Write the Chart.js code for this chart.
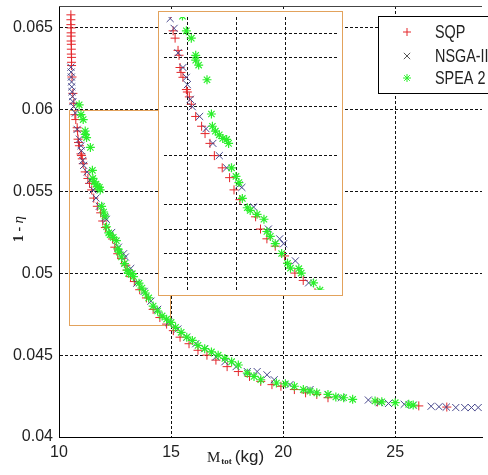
<!DOCTYPE html>
<html>
<head>
<meta charset="utf-8">
<script src="https://cdn.jsdelivr.net/npm/chart.js@4/dist/chart.umd.min.js"></script>
<style>
  html, body { margin: 0; padding: 0; background: #fff; }
  #wrap { position: relative; width: 488px; height: 475px; overflow: hidden; }
  #main { position: absolute; left: 0; top: 0; }
  #inset { position: absolute; left: 158px; top: 11px; background: #fff; }
</style>
</head>
<body>
<div id="wrap">
  <canvas id="main" width="488" height="475"></canvas>
  <canvas id="inset" width="185" height="285"></canvas>
</div>
<script>
"use strict";

// Pareto fronts, [M_tot (kg), 1 - eta]
var sqpPoints = [
  [10.53,0.0658],[10.53,0.0655],[10.53,0.0652],[10.54,0.0650],[10.54,0.0647],[10.54,0.0645],
  [10.54,0.0642],[10.55,0.0640],[10.55,0.0637],[10.55,0.0634],[10.56,0.0632],[10.56,0.0629],
  [10.56,0.0627],[10.58,0.0620],[10.62,0.0610],[10.66,0.0604],
  [10.71,0.0597],[10.75,0.0594],[10.81,0.0589],[10.83,0.0587],[10.85,0.0582],[10.87,0.0580],
  [10.91,0.0578],[10.98,0.0573],[11.00,0.0572],[11.04,0.0570],[11.08,0.0567],[11.17,0.0562],
  [11.29,0.0558],[11.36,0.0555],[11.46,0.0551],[11.55,0.0546],[11.71,0.0541],[11.86,0.0537],
  [11.95,0.0532],[12.07,0.0528],[12.39,0.0521],[12.49,0.0516],[12.62,0.0512],[12.79,0.0509],
  [12.98,0.0505],[13.04,0.0502],[13.19,0.0498],[13.36,0.0495],
  [13.60,0.0490],[13.90,0.0485],[14.20,0.0478],[14.50,0.0473],[14.80,0.0469],[15.10,0.0465],
  [15.40,0.0461],[15.80,0.0457],[16.20,0.0453],[16.60,0.0450],[17.00,0.0447],[17.50,0.0443],
  [18.00,0.0440],[18.50,0.0437],[19.00,0.0434],[19.50,0.0432],[19.90,0.0431],[20.50,0.0429],
  [21.00,0.0427],[21.50,0.0426],[22.00,0.0424],[24.20,0.04214],[26.05,0.0419],[27.30,0.04183]
];

var nsgaPoints = [
  [10.53,0.0626],[10.54,0.0623],[10.55,0.0620],[10.56,0.0617],[10.57,0.0614],[10.58,0.0611],
  [10.60,0.0608],[10.62,0.0605],[10.65,0.0602],[10.73,0.0598],[10.81,0.0588],[10.91,0.0582],
  [10.98,0.0578],[11.00,0.0575],[11.06,0.0569],[11.10,0.0566],[11.25,0.0562],[11.38,0.0557],
  [11.52,0.0551],[11.65,0.0546],[11.80,0.0541],[12.05,0.0534],[12.11,0.0533],[12.35,0.0525],
  [12.65,0.0516],[12.88,0.0512],[12.96,0.0510],[13.20,0.0503],[13.47,0.0494],
  [13.80,0.0489],[14.10,0.0483],[14.40,0.0478],[14.90,0.0470],[15.30,0.0466],[15.70,0.0461],
  [16.10,0.0457],[16.50,0.0454],[17.00,0.0449],[17.40,0.0446],[17.90,0.0443],[18.40,0.0440],
  [18.84,0.0440],[19.28,0.0438],[19.60,0.0435],[20.30,0.0432],[21.20,0.0429],[22.00,0.0426],
  [22.60,0.0424],[23.80,0.04226],[24.30,0.0421],[24.70,0.04205],[25.40,0.0420],[25.80,0.04195],
  [26.60,0.04188],[26.95,0.04185],[27.28,0.04183],[27.70,0.0418],[28.10,0.0418],[28.40,0.0418],
  [28.70,0.0418]
];

var speaPoints = [
  [10.90,0.0603],[10.98,0.0597],[11.08,0.0594],[11.17,0.0587],[11.17,0.0585],[11.23,0.0583],
  [11.40,0.0577],[11.49,0.0563],[11.51,0.0558],[11.57,0.0556],[11.65,0.05545],[11.72,0.0553],
  [11.80,0.05526],[11.84,0.0551],[11.90,0.0541],[11.99,0.05375],[12.05,0.0535],[12.12,0.05285],
  [12.22,0.05247],[12.28,0.05236],[12.42,0.0522],[12.56,0.0520],[12.62,0.0515],[12.69,0.0513],
  [12.79,0.0510],[12.92,0.0506],[13.04,0.0502],[13.10,0.0500],[13.27,0.04998],[13.32,0.0498],
  [13.57,0.0494],
  [13.70,0.0491],[13.85,0.0488],[14.00,0.0485],[14.20,0.0480],[14.40,0.0477],[14.60,0.0474],
  [14.80,0.0472],[15.00,0.0470],[15.20,0.0467],[15.45,0.0464],[15.70,0.0461],[15.95,0.0459],
  [16.20,0.0456],[16.50,0.0454],[16.80,0.0452],[17.10,0.0450],[17.40,0.0448],[17.70,0.0446],
  [18.00,0.0444],[18.40,0.0439],[18.70,0.0437],[19.00,0.0435],[19.70,0.0433],[20.10,0.04325],
  [20.50,0.0431],[20.90,0.0429],[21.20,0.0428],[21.50,0.0427],[22.00,0.0426],[22.35,0.04245],
  [22.70,0.0424],[23.10,0.0423],[24.10,0.0422],[24.40,0.04215],[25.00,0.0421],[25.60,0.0420],
  [25.80,0.04195]
];

var seriesNames = ["SQP", "NSGA-II", "SPEA 2"];
var xTicks = [10, 15, 20, 25];
var yTicks = [0.04, 0.045, 0.05, 0.055, 0.06, 0.065];
var insetXTicks = [11, 12, 13];
var insetYTicks = [0.0496, 0.0506, 0.0516, 0.0526, 0.0546, 0.0566, 0.0586, 0.0596];
var zoomBox = [10.44, 14.93, 0.04685, 0.0600];

var RED = "#e4262a", BLUE = "#47478c", GREEN = "#2bef2b", ORANGE = "#e2a25c";
var SANS = "'Liberation Sans', Arial, sans-serif";

function toXY(arr) { return arr.map(function (p) { return {x: p[0], y: p[1]}; }); }

function makeDatasets() {
  return [
    {label: seriesNames[0], data: toXY(sqpPoints), pointStyle: "cross", pointRadius: 4.5,
     pointBorderColor: RED, pointBackgroundColor: RED, pointBorderWidth: 1, order: 3},
    {label: seriesNames[1], data: toXY(nsgaPoints), pointStyle: "crossRot", pointRadius: 5,
     pointBorderColor: BLUE, pointBackgroundColor: BLUE, pointBorderWidth: 1, order: 2},
    {label: seriesNames[2], data: toXY(speaPoints), pointStyle: "star", pointRadius: 4.5,
     pointBorderColor: GREEN, pointBackgroundColor: GREEN, pointBorderWidth: 1.2, order: 1}
  ];
}

function marker(ctx, style, x, y, r, color) {
  ctx.save();
  ctx.strokeStyle = color; ctx.lineWidth = 1;
  ctx.beginPath();
  if (style === "cross" || style === "star") {
    ctx.moveTo(x - r, y); ctx.lineTo(x + r, y);
    ctx.moveTo(x, y - r); ctx.lineTo(x, y + r);
  }
  if (style === "crossRot" || style === "star") {
    var d = r * 0.707;
    ctx.moveTo(x - d, y - d); ctx.lineTo(x + d, y + d);
    ctx.moveTo(x + d, y - d); ctx.lineTo(x - d, y + d);
  }
  ctx.stroke();
  ctx.restore();
}

// chart area is fixed by hand, so drop the label overhang padding
function noPad(s) {
  s.paddingTop = 0; s.paddingBottom = 0; s.paddingLeft = 0; s.paddingRight = 0;
}

var mainDecor = {
  id: "mainDecor",
  beforeDatasetsDraw: function (chart) {
    var ctx = chart.ctx, a = chart.chartArea, xs = chart.scales.x, ys = chart.scales.y;
    ctx.save();
    ctx.strokeStyle = "#444"; ctx.lineWidth = 1;
    ctx.beginPath(); ctx.moveTo(a.left, a.top + 0.5); ctx.lineTo(a.right, a.top + 0.5); ctx.stroke();
    var x0 = Math.round(xs.getPixelForValue(zoomBox[0])) + 0.5;
    var x1 = Math.round(xs.getPixelForValue(zoomBox[1])) + 0.5;
    var y0 = Math.round(ys.getPixelForValue(zoomBox[2])) + 0.5;
    var y1 = Math.round(ys.getPixelForValue(zoomBox[3])) + 0.5;
    ctx.strokeStyle = ORANGE;
    ctx.strokeRect(x0, y1, x1 - x0, y0 - y1);
    ctx.restore();
  },
  afterDraw: function (chart) {
    var ctx = chart.ctx;
    ctx.save();
    // legend
    ctx.fillStyle = "#fff"; ctx.strokeStyle = "#000"; ctx.lineWidth = 1;
    ctx.fillRect(378.5, 16.5, 120, 77);
    ctx.strokeRect(378.5, 16.5, 120, 77);
    var rows = [32, 56, 78], styles = ["cross", "crossRot", "star"], cols = [RED, "#555", GREEN];
    for (var i = 0; i < 3; i++) {
      marker(ctx, styles[i], 407, rows[i], i === 1 ? 4.5 : 4, cols[i]);
      ctx.save();
      ctx.translate(435, rows[i] + 1); ctx.scale(0.8, 1);
      ctx.font = "18px " + SANS; ctx.fillStyle = "#222"; ctx.textBaseline = "middle";
      ctx.fillText(seriesNames[i], 0, 0);
      ctx.restore();
    }
    // x title: M_tot (kg)
    ctx.textBaseline = "alphabetic"; ctx.fillStyle = "#222";
    var tx = 207;
    ctx.font = "15px 'Liberation Serif', serif";
    ctx.fillText("M", tx, 462); tx += ctx.measureText("M").width + 1;
    ctx.font = "bold 9px 'Liberation Serif', serif";
    ctx.fillText("tot", tx, 464); tx += ctx.measureText("tot").width + 3;
    ctx.font = "17px " + SANS;
    ctx.fillText("(kg)", tx, 462);
    // y title: 1 - eta
    ctx.translate(23, 229); ctx.rotate(-Math.PI / 2);
    ctx.font = "bold 14px 'Liberation Serif', serif";
    var w1 = ctx.measureText("1 - ").width;
    ctx.font = "italic 15px 'Liberation Serif', serif";
    var w2 = ctx.measureText("\u03b7").width;
    ctx.font = "bold 14px 'Liberation Serif', serif";
    ctx.fillText("1 - ", -(w1 + w2) / 2, 0);
    ctx.font = "italic 15px 'Liberation Serif', serif";
    ctx.fillText("\u03b7", -(w1 + w2) / 2 + w1, 0);
    ctx.restore();
  }
};

var insetFrame = {
  id: "insetFrame",
  afterDraw: function (chart) {
    var ctx = chart.ctx;
    ctx.save();
    ctx.strokeStyle = ORANGE; ctx.lineWidth = 1;
    ctx.strokeRect(0.5, 0.5, chart.width - 1, chart.height - 1);
    ctx.restore();
  }
};

function gridOpts() {
  return {color: "#111", lineWidth: 1, drawTicks: false};
}

new Chart(document.getElementById("main").getContext("2d"), {
  type: "scatter",
  data: {datasets: makeDatasets()},
  options: {
    responsive: false, animation: false, devicePixelRatio: 1,
    layout: {padding: {left: 0, right: 0, top: 6, bottom: 0}},
    plugins: {legend: {display: false}, tooltip: {enabled: false}},
    scales: {
      x: {
        type: "linear", min: 10, max: 28.87,
        afterBuildTicks: function (s) { s.ticks = xTicks.map(function (v) { return {value: v}; }); },
        afterFit: function (s) { s.height = 38; noPad(s); },
        grid: gridOpts(),
        border: {display: true, color: "#000", width: 1, dash: [3, 2]},
        ticks: {padding: 6, color: "#222", font: {family: SANS, size: 16},
                maxRotation: 0, callback: function (v) { return String(v); }}
      },
      y: {
        type: "linear", min: 0.04, max: 0.06634,
        afterBuildTicks: function (s) { s.ticks = yTicks.map(function (v) { return {value: v}; }); },
        afterFit: function (s) { s.width = 59; noPad(s); },
        grid: gridOpts(),
        border: {display: true, color: "#000", width: 1, dash: [3, 2]},
        ticks: {padding: 6, color: "#222", font: {family: SANS, size: 16},
                callback: function (v) { return String(+v.toFixed(3)); }}
      }
    }
  },
  plugins: [mainDecor]
});

new Chart(document.getElementById("inset").getContext("2d"), {
  type: "scatter",
  data: {datasets: makeDatasets()},
  options: {
    responsive: false, animation: false, devicePixelRatio: 1,
    layout: {padding: 0},
    plugins: {legend: {display: false}, tooltip: {enabled: false}},
    scales: {
      x: {
        type: "linear", min: 10.524, max: 14.048,
        afterBuildTicks: function (s) { s.ticks = insetXTicks.map(function (v) { return {value: v}; }); },
        afterFit: function (s) { s.height = 0; noPad(s); },
        grid: gridOpts(),
        border: {display: false, dash: [3, 2]},
        ticks: {display: false}
      },
      y: {
        type: "linear", min: 0.049109, max: 0.060264,
        afterBuildTicks: function (s) { s.ticks = insetYTicks.map(function (v) { return {value: v}; }); },
        afterFit: function (s) { s.width = 0; noPad(s); },
        grid: gridOpts(),
        border: {display: false, dash: [3, 2]},
        ticks: {display: false}
      }
    }
  },
  plugins: [insetFrame]
});
</script>
</body>
</html>
